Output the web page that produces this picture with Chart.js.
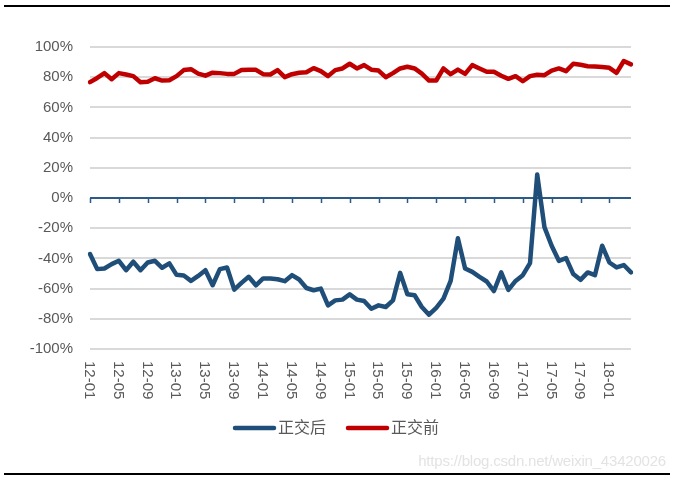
<!DOCTYPE html>
<html>
<head>
<meta charset="utf-8">
<script src="https://cdn.jsdelivr.net/npm/chart.js@4.4.1/dist/chart.umd.min.js"></script>
<style>
  html, body { margin: 0; padding: 0; background: #ffffff; }
  #wrap { position: relative; width: 675px; height: 481px; overflow: hidden; }
  #c { position: absolute; left: 0; top: 0; }
  .rule { position: absolute; left: 4px; width: 666px; height: 2px; background: #000; }
  #wm { position: absolute; right: 9px; top: 452px; font-family: "Liberation Sans", Arial, sans-serif;
        font-size: 15px; color: #e3e3e3; letter-spacing: -0.2px; }
</style>
</head>
<body>
<div id="wrap">
  <canvas id="c" width="675" height="481"></canvas>
  <div class="rule" style="top:5px"></div>
  <div class="rule" style="top:473px"></div>
  <div id="wm">https://blog.csdn.net/weixin_43420026</div>
</div>
<script>
const categories = [
  '12-01','12-02','12-03','12-04','12-05','12-06','12-07','12-08','12-09','12-10','12-11','12-12',
  '13-01','13-02','13-03','13-04','13-05','13-06','13-07','13-08','13-09','13-10','13-11','13-12',
  '14-01','14-02','14-03','14-04','14-05','14-06','14-07','14-08','14-09','14-10','14-11','14-12',
  '15-01','15-02','15-03','15-04','15-05','15-06','15-07','15-08','15-09','15-10','15-11','15-12',
  '16-01','16-02','16-03','16-04','16-05','16-06','16-07','16-08','16-09','16-10','16-11','16-12',
  '17-01','17-02','17-03','17-04','17-05','17-06','17-07','17-08','17-09','17-10','17-11','17-12',
  '18-01','18-02','18-03','18-04'
];
const xTickLabels = ['12-01','12-05','12-09','13-01','13-05','13-09','14-01','14-05','14-09',
  '15-01','15-05','15-09','16-01','16-05','16-09','17-01','17-05','17-09','18-01'];
const yTicks = [-100, -80, -60, -40, -20, 0, 20, 40, 60, 80, 100];

const seriesNames = ['正交后', '正交前'];
const afterValues = [
  -37.1, -47.1, -46.7, -43.8, -41.6, -47.8, -42.2, -47.8, -42.7, -41.6, -46.2, -43.3,
  -50.9, -51.3, -54.9, -51.6, -47.8, -57.8, -47.1, -46.0, -60.7, -56.2, -52.2, -57.8,
  -53.3, -53.3, -53.8, -55.1, -51.1, -54.0, -59.6, -61.1, -60.0, -71.1, -67.8, -67.3,
  -63.8, -67.3, -68.2, -73.3, -71.1, -72.2, -67.8, -49.6, -63.8, -64.4, -72.2, -77.3,
  -72.7, -66.7, -54.9, -26.7, -46.7, -48.9, -52.2, -55.3, -61.6, -49.3, -60.9, -54.9,
  -51.1, -43.1, 15.6, -19.3, -31.6, -41.6, -39.8, -50.4, -54.2, -49.3, -51.1, -31.6,
  -42.7, -46.0, -44.4, -49.3
];
const beforeValues = [
  76.7, 79.5, 82.7, 78.7, 82.7, 81.8, 80.7, 76.7, 77.0, 79.3, 77.8, 78.0,
  80.7, 84.7, 85.3, 82.4, 81.0, 83.0, 82.7, 82.2, 82.2, 84.7, 85.0, 84.9,
  82.0, 81.8, 84.7, 80.0, 82.0, 82.9, 83.3, 86.0, 84.0, 80.7, 84.7, 85.8,
  88.9, 85.8, 88.0, 85.0, 84.4, 80.0, 82.7, 85.8, 86.9, 85.8, 82.4, 77.8,
  77.8, 85.8, 82.0, 85.0, 82.2, 88.0, 85.8, 83.6, 83.6, 81.0, 78.9, 80.7,
  77.3, 80.7, 81.6, 81.3, 84.4, 85.8, 84.0, 88.9, 88.2, 87.3, 87.1, 86.7,
  86.2, 82.9, 90.7, 88.5
];

const BLUE = '#1f4e79';
const RED = '#c00000';
const TEXT = '#595959';
const FONT = '"Liberation Sans", "Noto Sans CJK SC", Arial, sans-serif';

const customDraw = {
  id: 'customDraw',
  beforeDatasetsDraw(chart) {
    const ctx = chart.ctx, xs = chart.scales.x, ys = chart.scales.y;
    const y0 = ys.getPixelForValue(0);
    ctx.save();
    ctx.strokeStyle = '#2b5b86';
    ctx.lineWidth = 2;
    ctx.beginPath();
    ctx.moveTo(chart.chartArea.left, y0);
    ctx.lineTo(chart.chartArea.right, y0);
    ctx.stroke();
    ctx.beginPath();
    for (let i = 0; i < categories.length; i++) {
      if (xTickLabels.indexOf(categories[i]) >= 0) {
        const x = Math.round(xs.getPixelForValue(i)) + 0.5;
        ctx.moveTo(x, y0);
        ctx.lineTo(x, y0 + 5);
      }
    }
    ctx.lineWidth = 1.5;
    ctx.stroke();
    ctx.restore();
  },
  afterDraw(chart) {
    const ctx = chart.ctx, xs = chart.scales.x;
    ctx.save();
    ctx.fillStyle = TEXT;
    ctx.font = '15px ' + FONT;
    ctx.textAlign = 'left';
    ctx.textBaseline = 'middle';
    const yTop = chart.chartArea.bottom + 12;
    for (let i = 0; i < categories.length; i++) {
      if (xTickLabels.indexOf(categories[i]) >= 0) {
        const x = xs.getPixelForValue(i) - 1;
        ctx.save();
        ctx.translate(x, yTop);
        ctx.rotate(Math.PI / 2);
        ctx.fillText(categories[i], 0, 0);
        ctx.restore();
      }
    }
    // legend
    const ly = 428;
    const items = [
      { name: seriesNames[0], color: BLUE, x: 235 },
      { name: seriesNames[1], color: RED, x: 348 }
    ];
    ctx.font = '16px ' + FONT;
    ctx.lineCap = 'round';
    items.forEach(it => {
      ctx.strokeStyle = it.color;
      ctx.lineWidth = 4.5;
      ctx.beginPath();
      ctx.moveTo(it.x, ly);
      ctx.lineTo(it.x + 39, ly);
      ctx.stroke();
      ctx.fillStyle = TEXT;
      ctx.fillText(it.name, it.x + 43, ly + 1);
    });
    ctx.restore();
  }
};

new Chart(document.getElementById('c'), {
  type: 'line',
  data: {
    labels: categories,
    datasets: [
      { label: seriesNames[0], data: afterValues, borderColor: BLUE, backgroundColor: BLUE,
        borderWidth: 4.5, pointRadius: 0, tension: 0, borderJoinStyle: 'round', borderCapStyle: 'round' },
      { label: seriesNames[1], data: beforeValues, borderColor: RED, backgroundColor: RED,
        borderWidth: 4.5, pointRadius: 0, tension: 0, borderJoinStyle: 'round', borderCapStyle: 'round' }
    ]
  },
  options: {
    responsive: false,
    animation: false,
    devicePixelRatio: 1,
    layout: { padding: { top: 47, right: 44, bottom: 132, left: 0 } },
    plugins: { legend: { display: false }, tooltip: { enabled: false } },
    scales: {
      x: { type: 'category', display: false, offset: false },
      y: {
        min: -100, max: 100,
        afterBuildTicks(scale) { scale.ticks = yTicks.map(v => ({ value: v })); },
        afterFit(scale) { scale.width = 90; },
        border: { display: false },
        grid: { color: '#d9d9d9', lineWidth: 2, drawTicks: false },
        ticks: { color: TEXT, padding: 17, font: { family: FONT, size: 15 },
                 callback: v => v + '%' }
      }
    }
  },
  plugins: [customDraw]
});
</script>
</body>
</html>
